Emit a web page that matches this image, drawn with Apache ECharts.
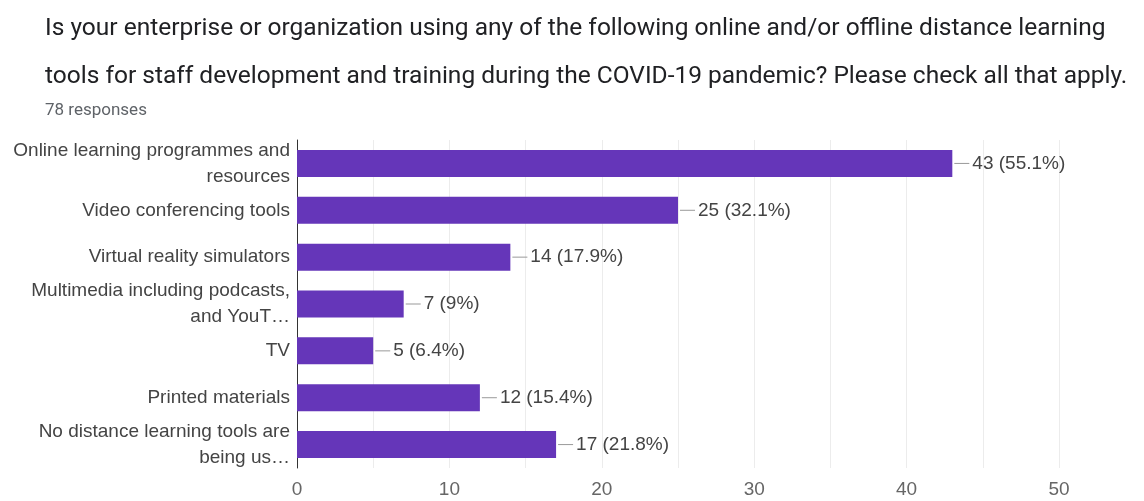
<!DOCTYPE html>
<html>
<head>
<meta charset="utf-8">
<script src="https://cdn.jsdelivr.net/npm/echarts@6/dist/echarts.min.js"></script>
<style>
html,body{margin:0;padding:0;background:#fff;}
#chart{width:1144px;height:501px;}
</style>
</head>
<body>
<div id="chart"></div>
<script>
const titleText = "Is your enterprise or organization using any of the following online and/or offline distance learning\ntools for staff development and training during the COVID-19 pandemic? Please check all that apply.";
const subtitleText = "78 responses";
const categories = [
  "Online learning programmes and\nresources",
  "Video conferencing tools",
  "Virtual reality simulators",
  "Multimedia including podcasts,\nand YouT\u2026",
  "TV",
  "Printed materials",
  "No distance learning tools are\nbeing us\u2026"
];
const counts = [43, 25, 14, 7, 5, 12, 17];
const percents = ["55.1%", "32.1%", "17.9%", "9%", "6.4%", "15.4%", "21.8%"];
const xTicks = [0, 10, 20, 30, 40, 50];

const chart = echarts.init(document.getElementById('chart'), null, {renderer: 'canvas'});
const labelFont = '"Liberation Sans", Arial, sans-serif';
chart.setOption({
  animation: false,
  backgroundColor: '#ffffff',
  title: [
    {
      text: titleText,
      left: 40, top: 0,
      textStyle: {fontFamily: 'Roboto, sans-serif', fontSize: 24.5, fontWeight: 'normal', color: '#202124', lineHeight: 48}
    },
    {
      text: subtitleText,
      left: 40, top: 94,
      textStyle: {fontFamily: 'Roboto, sans-serif', fontSize: 17, fontWeight: 'normal', color: '#5f6368', lineHeight: 24}
    }
  ],
  grid: {left: 297, right: 85, top: 140, bottom: 33, containLabel: false},
  xAxis: {
    type: 'value',
    min: xTicks[0], max: xTicks[xTicks.length - 1], interval: 10,
    axisLine: {show: false},
    axisTick: {show: false},
    axisLabel: {fontFamily: labelFont, fontSize: 19, color: '#666', margin: 12},
    splitLine: {show: true, lineStyle: {color: '#ececec', width: 1}},
    minorTick: {show: false, splitNumber: 2},
    minorSplitLine: {show: true, lineStyle: {color: '#ececec', width: 1}}
  },
  yAxis: {
    type: 'category',
    inverse: true,
    data: categories,
    axisLine: {show: true, lineStyle: {color: '#333', width: 1}},
    axisTick: {show: false},
    axisLabel: {fontFamily: labelFont, fontSize: 19, color: '#444', lineHeight: 26, margin: 7, align: 'right'}
  },
  series: [{
    type: 'bar',
    data: counts,
    barWidth: 27,
    itemStyle: {color: '#6536b9'},
    label: {
      show: true,
      position: 'right',
      distance: 2,
      formatter: function (p) {
        return '{l| }{t|' + counts[p.dataIndex] + ' (' + percents[p.dataIndex] + ')}';
      },
      rich: {
        l: {width: 15, height: 1, backgroundColor: '#999', fontSize: 1, lineHeight: 1},
        t: {fontFamily: labelFont, fontSize: 19, color: '#444', padding: [0, 0, 0, 3]}
      }
    }
  }]
});
</script>
</body>
</html>
